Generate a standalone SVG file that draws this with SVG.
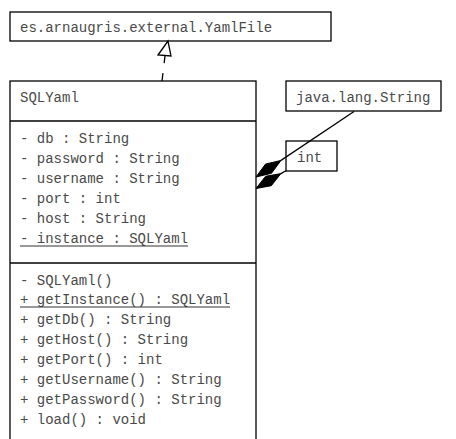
<svg xmlns="http://www.w3.org/2000/svg" width="456" height="439" viewBox="0 0 456 439">
  <style>
    .box { fill: #ffffff; stroke: #000000; stroke-width: 1.3; }
    .sep { stroke: #000000; stroke-width: 1.3; }
    .txt { font-family: "Liberation Mono", "DejaVu Sans Mono", monospace; font-size: 14px; fill: #4a4a4a; }
    .edge { fill: none; stroke: #000000; stroke-width: 1.3; }
    .ul { stroke: #333333; stroke-width: 1; }
  </style>
  <rect width="456" height="439" fill="#ffffff"/>

  <g id="yamlfile">
    <rect class="box" x="10" y="12" width="321" height="29"/>
    <text class="txt" x="20" y="32">es.arnaugris.external.YamlFile</text>
  </g>

  <g id="sqlyaml">
    <rect class="box" x="10" y="81" width="246" height="370"/>
    <line class="sep" x1="10" y1="121" x2="256" y2="121"/>
    <line class="sep" x1="10" y1="263" x2="256" y2="263"/>
    <text class="txt" x="20" y="102">SQLYaml</text>
    <text class="txt" x="20" y="143">- db : String</text>
    <text class="txt" x="20" y="163">- password : String</text>
    <text class="txt" x="20" y="183">- username : String</text>
    <text class="txt" x="20" y="203">- port : int</text>
    <text class="txt" x="20" y="223">- host : String</text>
    <text class="txt" x="20" y="243">- instance : SQLYaml</text>
    <line class="ul" x1="20" y1="246" x2="188" y2="246"/>
    <text class="txt" x="20" y="285">- SQLYaml()</text>
    <text class="txt" x="20" y="304">+ getInstance() : SQLYaml</text>
    <line class="ul" x1="20" y1="307" x2="230" y2="307"/>
    <text class="txt" x="20" y="324">+ getDb() : String</text>
    <text class="txt" x="20" y="344">+ getHost() : String</text>
    <text class="txt" x="20" y="364">+ getPort() : int</text>
    <text class="txt" x="20" y="384">+ getUsername() : String</text>
    <text class="txt" x="20" y="404">+ getPassword() : String</text>
    <text class="txt" x="20" y="424">+ load() : void</text>
  </g>

  <g id="string">
    <rect class="box" x="286" y="81" width="155" height="30"/>
    <text class="txt" x="296" y="102">java.lang.String</text>
  </g>

  <g id="int">
    <rect class="box" x="286" y="141" width="51" height="30"/>
    <text class="txt" x="297" y="162">int</text>
  </g>

  <g id="connectors">
    <!-- generalization: SQLYaml -> YamlFile -->
    <line class="edge" x1="162" y1="81" x2="165" y2="56" stroke-dasharray="8,10"/>
    <polygon points="168,41 158,55 171,56" fill="#ffffff" stroke="#000000" stroke-width="1.3"/>
    <!-- composition: SQLYaml -> java.lang.String -->
    <line class="edge" x1="281" y1="160.4" x2="354" y2="111.5"/>
    <polygon points="256,177 265.5,164.1 281,160.4 271.5,173.3" fill="#000000" stroke="#000000" stroke-width="1"/>
    <!-- composition: SQLYaml -> int -->
    <line class="edge" x1="280.9" y1="173.6" x2="286" y2="170.8"/>
    <polygon points="256,188.5 265.6,176.3 280.9,173.6 271.3,185.7" fill="#000000" stroke="#000000" stroke-width="1"/>
  </g>
</svg>
